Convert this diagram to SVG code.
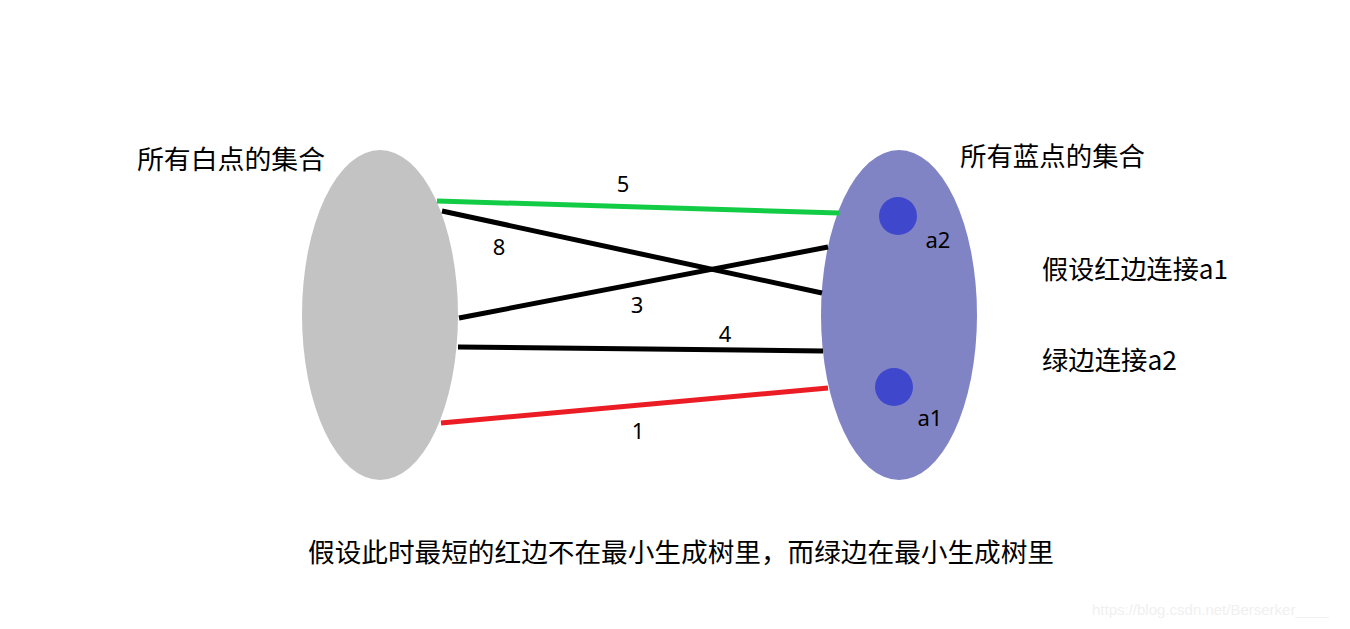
<svg xmlns="http://www.w3.org/2000/svg" width="1350" height="629" viewBox="0 0 1350 629">
<style>
.t{font-family:"Noto Sans CJK SC","Noto Sans",sans-serif;fill:#000;}
.cj{font-size:26.5px;}
.n{font-family:"Noto Sans","Noto Sans CJK SC",sans-serif;font-size:22px;fill:#000;text-anchor:middle;}
.e{stroke-width:5;stroke-linecap:butt;fill:none;}
</style>
<rect width="1350" height="629" fill="#fff"/>
<g id="white-set">
<ellipse cx="380" cy="315" rx="78" ry="165" fill="#c3c3c3"/>
<text class="t cj" x="137" y="169" textLength="188" lengthAdjust="spacingAndGlyphs">所有白点的集合</text>
</g>
<g id="blue-set">
<ellipse cx="899" cy="315" rx="78" ry="165" fill="#8084c4"/>
<text class="t cj" x="960" y="166" textLength="185" lengthAdjust="spacingAndGlyphs">所有蓝点的集合</text>
</g>
<g id="connectors">
<line class="e" x1="437" y1="201" x2="839" y2="213" stroke="#12cc46"/>
<line class="e" x1="442" y1="211" x2="822" y2="293" stroke="#000"/>
<line class="e" x1="459" y1="318" x2="828" y2="247" stroke="#000"/>
<line class="e" x1="458" y1="347" x2="823" y2="351" stroke="#000"/>
<line class="e" x1="441" y1="423" x2="828" y2="388" stroke="#ec1c24"/>
<text class="n" x="623" y="192">5</text>
<text class="n" x="499" y="255">8</text>
<text class="n" x="637" y="313">3</text>
<text class="n" x="725" y="342">4</text>
<text class="n" x="638" y="439">1</text>
</g>
<g id="a2">
<circle cx="898" cy="216" r="19" fill="#3f48cc"/>
<text class="n" x="938" y="248">a2</text>
</g>
<g id="a1">
<circle cx="894" cy="387" r="19" fill="#3f48cc"/>
<text class="n" x="930" y="426">a1</text>
</g>
<g id="notes">
<text class="t cj" x="1042" y="279" textLength="186" lengthAdjust="spacingAndGlyphs">假设红边连接a1</text>
<text class="t cj" x="1042" y="370" textLength="135" lengthAdjust="spacingAndGlyphs">绿边连接a2</text>
<text class="t cj" x="308" y="562" textLength="746" lengthAdjust="spacingAndGlyphs">假设此时最短的红边不在最小生成树里，而绿边在最小生成树里</text>
<text x="1092" y="615" style="font-family:'Liberation Sans',sans-serif;font-size:15px;fill:#f0f0f0">https://blog.csdn.net/Berserker____</text>
</g>
</svg>
